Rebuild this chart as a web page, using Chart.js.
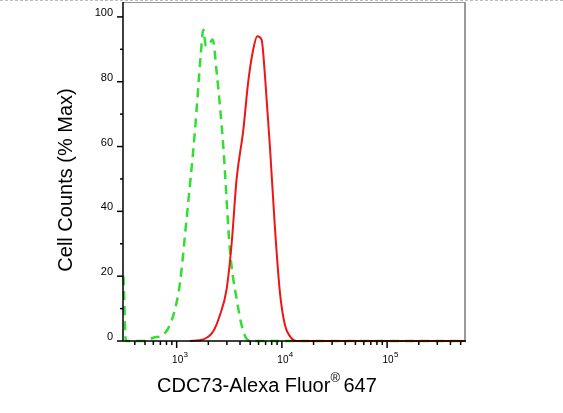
<!DOCTYPE html>
<html><head><meta charset="utf-8">
<script src="https://cdn.jsdelivr.net/npm/chart.js@4/dist/chart.umd.min.js"></script>
<style>html,body{margin:0;padding:0;background:#fff}#w{width:563px;height:413px}</style>
</head><body><div id="w"><canvas id="c"></canvas></div>
<script>
const greenX=[312,318,324,330,483,600,747,865,1000,1076,1245,1493,1690,1791,1897,2070,2197,2398,2774,3208,3713,4295,4969,9550,50000,560000];
const greenY=[20,12,3,0,0,1,2,5,12,18,38,65,88,96,91,92,93,83,60,28,13,3,0,0,0,0];
const redX=[1339,1791,2228,2578,2983,3329,3713,4295,4789,5345,5836,6412,6901,7695,8586,9577,10673,11900,13770,50000,560000];
const redY=[0,0.5,3,8,16,30,50,65,80,90,94,93,82,60,35,15,5,1.5,0,0,0];
const yMajor=[0,20,40,60,80,100];
const xMajor=[1000,10000,100000];
const xMajorLabels=['3','4','5'];
const pts=(xs,ys)=>xs.map((x,i)=>({x,y:ys[i]}));
const deco={id:'deco',afterDraw(ch){
 const c=ch.ctx,a=ch.chartArea,xs=ch.scales.x,ys=ch.scales.y;
 c.save();
 c.strokeStyle='#bbb';c.lineWidth=1;c.setLineDash([3,2]);
 c.beginPath();c.moveTo(0,0.5);c.lineTo(563,0.5);c.stroke();c.setLineDash([]);
 c.strokeStyle='#999';c.lineWidth=1;c.beginPath();c.moveTo(a.left,a.top+0.5);c.lineTo(a.right,a.top+0.5);c.stroke();
 c.lineWidth=2;c.beginPath();c.moveTo(a.right-1,a.top);c.lineTo(a.right-1,a.bottom);c.stroke();
 c.strokeStyle='#000';c.lineWidth=1.5;
 c.beginPath();c.moveTo(a.left,a.top);c.lineTo(a.left,a.bottom);c.lineTo(a.right,a.bottom);c.stroke();
 c.fillStyle='#000';c.font='11px "Liberation Sans",Arial';c.textAlign='right';c.textBaseline='middle';
 for(let v=0;v<=100;v+=10){const y=ys.getPixelForValue(v);const L=yMajor.includes(v)?6:3;
  c.beginPath();c.moveTo(a.left-L,y);c.lineTo(a.left,y);c.stroke();
  if(yMajor.includes(v))c.fillText(String(v),a.left-10,y-4);}
 for(let e=2;e<=5;e++)for(let m=1;m<=9;m++){const v=m*Math.pow(10,e);if(v<xs.min||v>xs.max)continue;
  const x=xs.getPixelForValue(v);const L=m===1?7:4;c.beginPath();c.moveTo(x,a.bottom);c.lineTo(x,a.bottom+L);c.stroke();}
 xMajor.forEach((v,i)=>{const x=xs.getPixelForValue(v);c.textAlign='center';c.textBaseline='alphabetic';
  c.font='10px "Liberation Sans",Arial';c.fillText('10',x+1,a.bottom+22);c.font='8px "Liberation Sans",Arial';c.fillText(xMajorLabels[i],x+9,a.bottom+16);});
 c.font='20px "Liberation Sans",Arial';c.textAlign='left';c.textBaseline='alphabetic';
 const t1='CDC73-Alexa Fluor';c.fillText(t1,157,392);const w=c.measureText(t1).width;
 c.font='13px "Liberation Sans",Arial';c.fillText('®',157+w,382);c.font='20px "Liberation Sans",Arial';c.fillText('647',157+w+13,392);
 c.translate(72,180);c.rotate(-Math.PI/2);c.textAlign='center';c.fillText('Cell Counts (% Max)',0,0);
 c.restore();}};
new Chart(document.getElementById('c'),{type:'line',
 data:{datasets:[
  {data:pts(redX,redY),borderColor:'#ee1515',borderWidth:2,pointRadius:0,cubicInterpolationMode:'monotone'},
  {data:pts(greenX,greenY),borderColor:'#33dd33',borderWidth:2.5,borderDash:[9,6],pointRadius:0,cubicInterpolationMode:'monotone'}]},
 options:{responsive:true,maintainAspectRatio:false,animation:false,clip:false,
  layout:{padding:{left:123,right:97,top:2,bottom:72}},
  plugins:{legend:{display:false},tooltip:{enabled:false}},
  scales:{x:{type:'logarithmic',min:309,max:562000,display:false},y:{min:0,max:104.6,display:false}}},
 plugins:[deco]});
</script></body></html>
